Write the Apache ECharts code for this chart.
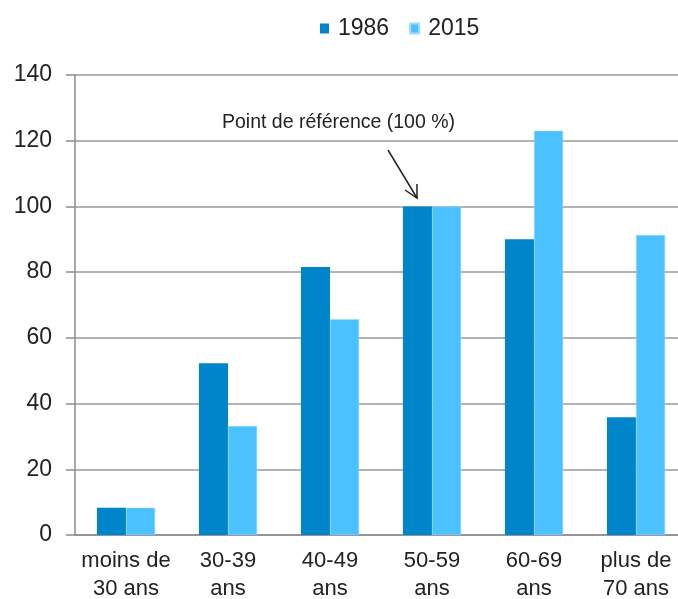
<!DOCTYPE html>
<html>
<head>
<meta charset="utf-8">
<script src="https://cdn.jsdelivr.net/npm/echarts@6/dist/echarts.min.js"></script>
<style>
  html, body { margin: 0; padding: 0; background: #fff; }
  #main { width: 678px; height: 599px; }
</style>
</head>
<body>
<div id="main"></div>
<script>
const categories = ['moins de\n30 ans', '30-39\nans', '40-49\nans', '50-59\nans', '60-69\nans', 'plus de\n70 ans']
const seriesNames = ['1986', '2015']
const values1986 = [8.3, 52.3, 81.6, 100, 90, 35.8]
const values2015 = [8.3, 33.2, 65.7, 100, 123, 91.3]
const yTicks = {min: 0, max: 140, interval: 20}
const annotation = 'Point de référence (100 %)'

const font = '"Liberation Sans", Arial, sans-serif'
const chart = echarts.init(document.getElementById('main'))
chart.setOption({
    animation: false,
    textStyle: {fontFamily: font},
    grid: {left: 75, top: 75, width: 612, height: 460, outerBoundsMode: 'none', containLabel: false},
    legend: {
        data: seriesNames,
        top: 12,
        left: 315,
        icon: 'rect',
        itemWidth: 9,
        itemHeight: 10,
        itemGap: 20,
        textStyle: {fontSize: 23, color: '#222', fontFamily: font, padding: [0, 0, 0, 4]}
    },
    xAxis: {
        type: 'category',
        data: categories,
        axisLine: {lineStyle: {color: '#8c8c8c', width: 1.5}},
        axisTick: {length: 9, lineStyle: {color: '#8c8c8c', width: 1.5}},
        axisLabel: {fontSize: 22, color: '#222', lineHeight: 28, margin: 12, interval: 0}
    },
    yAxis: {
        type: 'value',
        min: yTicks.min,
        max: yTicks.max,
        interval: yTicks.interval,
        axisLine: {show: true, lineStyle: {color: '#8c8c8c', width: 1.5}},
        axisTick: {show: true, length: 9, lineStyle: {color: '#8c8c8c', width: 1.5}},
        axisLabel: {fontSize: 23, color: '#222', margin: 23},
        splitLine: {lineStyle: {color: '#9a9a9a', width: 1.5}}
    },
    series: [
        {
            name: seriesNames[0],
            type: 'bar',
            data: values1986,
            barGap: '0%',
            barCategoryGap: '43%',
            itemStyle: {color: '#0085cb'}
        },
        {
            name: seriesNames[1],
            type: 'bar',
            data: values2015,
            barGap: '0%',
            barCategoryGap: '43%',
            itemStyle: {color: '#4cc1ff', borderColor: '#9fdcff', borderWidth: 0.5}
        }
    ],
    graphic: [
        {
            type: 'text',
            left: 222,
            top: 113,
            style: {text: annotation, fontSize: 19.5, fill: '#222', fontFamily: font}
        },
        {
            type: 'polyline',
            shape: {points: [[388, 150], [417, 198]]},
            style: {stroke: '#222', lineWidth: 1.5}
        },
        {
            type: 'polyline',
            shape: {points: [[405, 190], [417, 198], [417, 184]]},
            style: {stroke: '#222', lineWidth: 1.5, fill: null}
        }
    ]
})
</script>
</body>
</html>
